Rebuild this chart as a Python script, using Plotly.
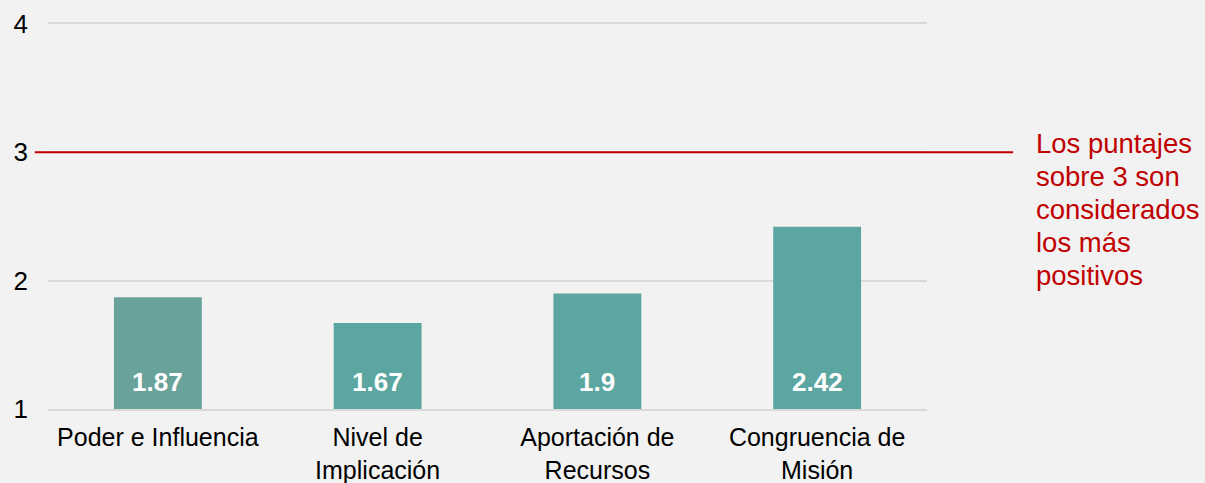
import plotly.graph_objects as go

categories = ["Poder e Influencia", "Nivel de<br>Implicación", "Aportación de<br>Recursos", "Congruencia de<br>Misión"]
values = [1.87, 1.67, 1.9, 2.42]
bar_colors = ["#69A29A", "#5BA6A0", "#5BA6A0", "#5BA6A0"]
y_ticks = [1, 2, 3, 4]
threshold = 3
note_lines = ["Los puntajes", "sobre 3 son", "considerados", "los más", "positivos"]

FONT = "Liberation Sans, Arial"
base_value = 1
fig = go.Figure()
fig.add_trace(go.Bar(
    x=categories,
    y=[v - base_value for v in values],
    base=base_value,
    marker=dict(color=bar_colors, line=dict(width=0)),
    hoverinfo="skip",
))

# value labels near the bottom of each bar
for cat, v in zip(categories, values):
    fig.add_annotation(text=f"<b>{v}</b>", x=cat, y=base_value, xref="x", yref="y",
                       yanchor="middle", yshift=27, showarrow=False,
                       font=dict(family=FONT, size=26, color="white"))

fig.add_shape(type="line", xref="paper", yref="y", x0=-0.015, x1=1.098, y0=threshold, y1=threshold,
              line=dict(color="#C00000", width=2))

# note text, one annotation per line (plot area spans 385 px vertically)
for i, line in enumerate(note_lines):
    center_px = 143 + i * 33
    fig.add_annotation(text=line, xref="paper", yref="paper", x=1.122, y=(409 - center_px) / 385,
                       xanchor="left", yanchor="middle", align="left", showarrow=False,
                       font=dict(family=FONT, size=27.5, color="#C00000"))

fig.update_layout(
    width=1205, height=483,
    margin=dict(l=48, r=278, t=24, b=74),
    paper_bgcolor="#F2F2F2", plot_bgcolor="#F2F2F2",
    bargap=0.6,
    showlegend=False,
    font=dict(family=FONT, size=26, color="#000000"),
)
fig.update_yaxes(range=[1, 4], tickvals=y_ticks, showgrid=True, gridcolor="#D9D9D9", gridwidth=2,
                 zeroline=False, showline=False, ticklabelstandoff=19, automargin=False,
                 tickfont=dict(size=26))
fig.update_xaxes(showline=True, linecolor="#D9D9D9", linewidth=2, mirror=True, automargin=False,
                 showgrid=False, tickfont=dict(size=25), ticklabelstandoff=5)

fig.write_html("out.html", config={"displayModeBar": False},
               post_script="document.body.style.margin='0';")
